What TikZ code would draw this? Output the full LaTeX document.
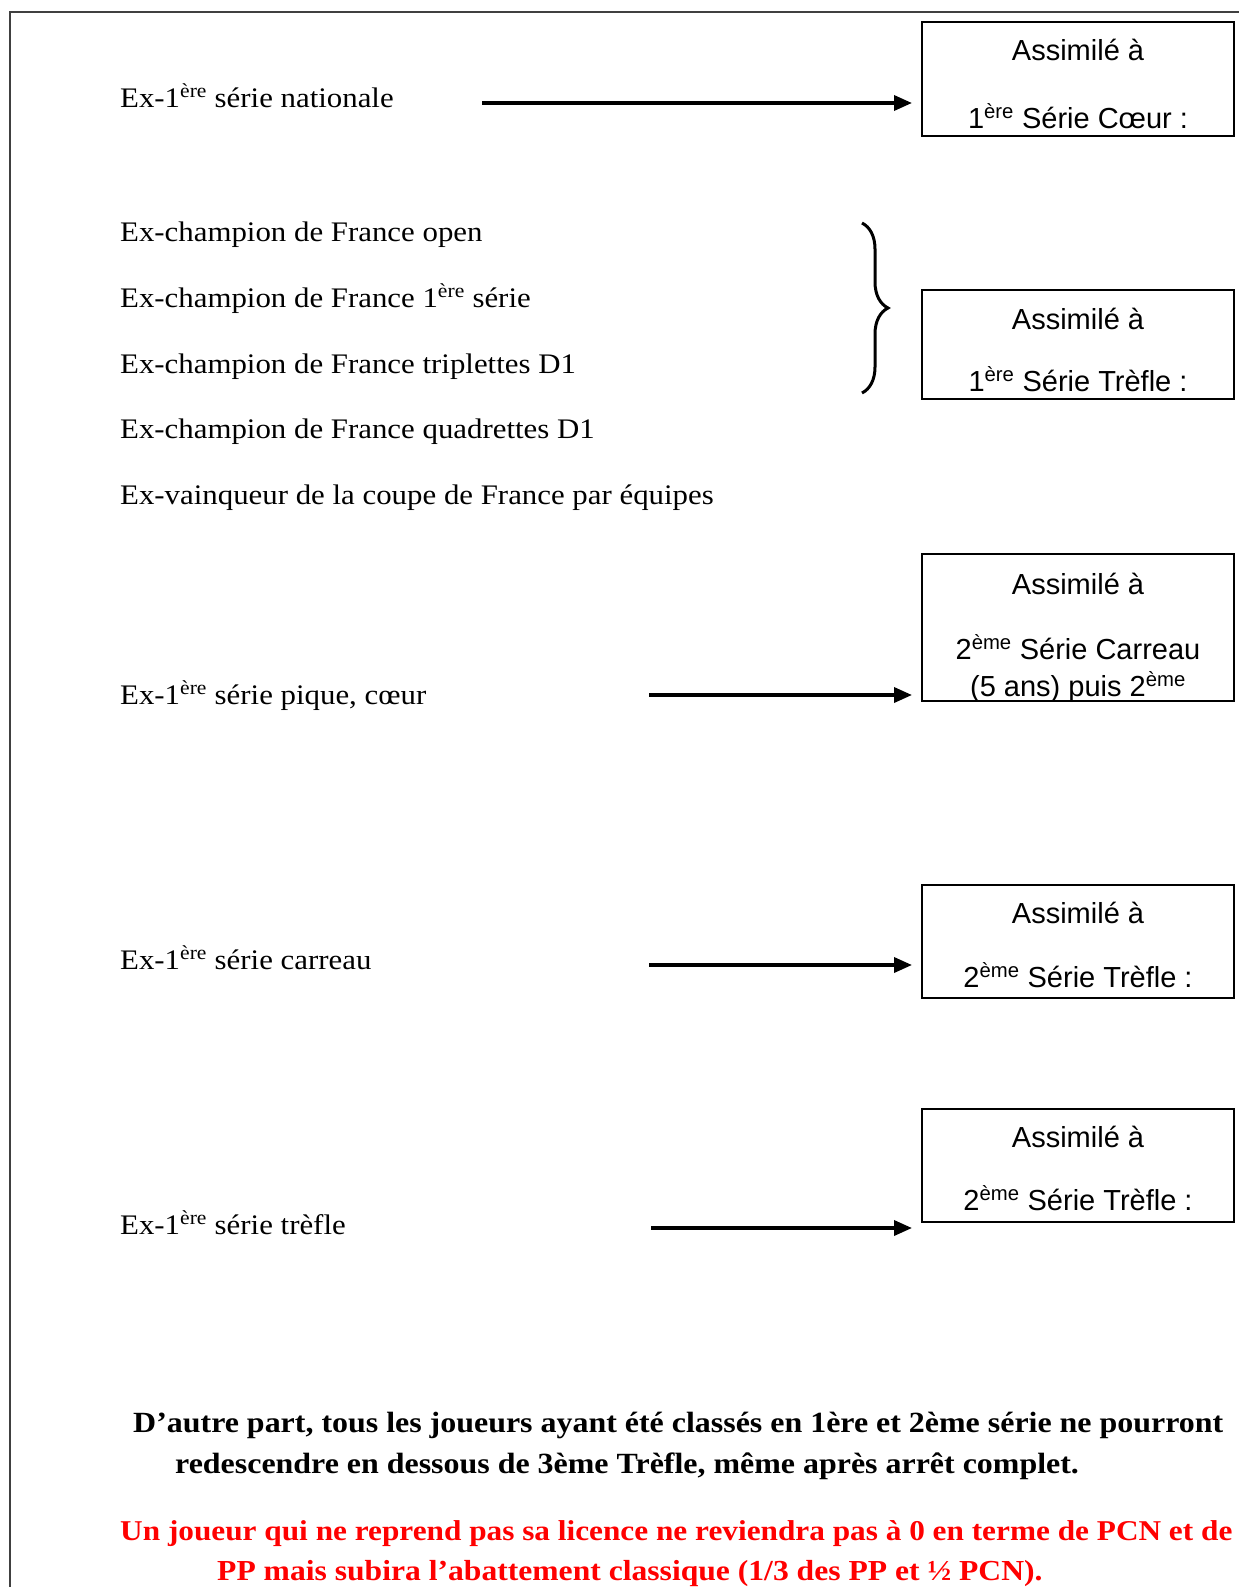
\documentclass[tikz,border=0pt]{standalone}
\usepackage{fontspec}
\setmainfont{Liberation Serif}[FakeStretch=1.09]
\newfontfamily\arial{Liberation Sans}
\usetikzlibrary{arrows.meta,decorations.pathreplacing}

\begin{document}
\begin{tikzpicture}[x=1pt,y=-1pt]
\tikzstyle{every node}=[inner sep=0pt,anchor=base west,font=\fontsize{28.3}{34}\selectfont]
\tikzstyle{boite}=[draw,line width=2pt,minimum width=312pt,anchor=center]
\tikzstyle{dans}=[anchor=base,font=\arial\fontsize{29}{35}\selectfont]
\tikzstyle{fleche}=[line width=3.5pt,-{Triangle[length=18pt,width=15pt]},shorten >=9pt]
\tikzstyle{gras}=[font=\bfseries\fontsize{29.3}{35}\selectfont]
\useasboundingbox (0,0) rectangle (1239,1587);

\draw[line width=1.3pt,black!75] (1239,12) -- (10,12) -- (10,1587); % cadre de la page

% 1ere serie coeur
\node (nat) at (120,107) {Ex-1\textsuperscript{ère} série nationale};
\node (c1) [boite,minimum height=114pt] at (1078,79) {};
\node (c1a) [dans] at (1078,61) {Assimilé à};
\node (c1b) [dans] at (1078,128) {1\textsuperscript{ère} Série Cœur :};
\coordinate (d1) at (482,103);
\draw[fleche] (d1) -- (d1 -| c1.west);

% champions de France
\node (ch1) at (120,241) {Ex-champion de France open};
\node (ch2) at (120,307) {Ex-champion de France 1\textsuperscript{ère} série};
\node (ch3) at (120,373) {Ex-champion de France triplettes D1};
\node (ch4) at (120,438) {Ex-champion de France quadrettes D1};
\node (ch5) at (120,504) {Ex-vainqueur de la coupe de France par équipes};
\draw[line width=3pt,decorate,decoration={brace,amplitude=26pt}] (862,223) -- (862,393); % accolade
\node (c2) [boite,minimum height=109pt] at (1078,344.5) {};
\node (c2a) [dans] at (1078,329) {Assimilé à};
\node (c2b) [dans] at (1078,391) {1\textsuperscript{ère} Série Trèfle :};

% pique, coeur
\node (pc) at (120,704) {Ex-1\textsuperscript{ère} série pique, cœur};
\node (c3) [boite,minimum height=147pt] at (1078,627.5) {};
\node (c3a) [dans] at (1078,594) {Assimilé à};
\node (c3b) [dans] at (1078,659) {2\textsuperscript{ème} Série Carreau};
\node (c3c) [dans] at (1078,696) {(5 ans) puis 2\textsuperscript{ème}};
\coordinate (d3) at (649,695);
\draw[fleche] (d3) -- (d3 -| c3.west);

% carreau
\node (ca) at (120,969) {Ex-1\textsuperscript{ère} série carreau};
\node (c4) [boite,minimum height=113pt] at (1078,941.5) {};
\node (c4a) [dans] at (1078,923) {Assimilé à};
\node (c4b) [dans] at (1078,987) {2\textsuperscript{ème} Série Trèfle :};
\coordinate (d4) at (649,965);
\draw[fleche] (d4) -- (d4 -| c4.west);

% trefle
\node (tr) at (120,1234) {Ex-1\textsuperscript{ère} série trèfle};
\node (c5) [boite,minimum height=113pt] at (1078,1165.5) {};
\node (c5a) [dans] at (1078,1147) {Assimilé à};
\node (c5b) [dans] at (1078,1210) {2\textsuperscript{ème} Série Trèfle :};
\coordinate (d5) at (651,1228);
\draw[fleche] (d5) -- (d5 -| c5.west);

% remarques
\node (np1) [gras] at (133,1432) {D’autre part, tous les joueurs ayant été classés en 1ère et 2ème série ne pourront};
\node (np2) [gras] at (175,1473) {redescendre en dessous de 3ème Trèfle, même après arrêt complet.};
\node (nr1) [gras,text=red,font=\bfseries\fontsize{28.7}{34}\selectfont] at (120,1540) {Un joueur qui ne reprend pas sa licence ne reviendra pas à 0 en terme de PCN et de};
\node (nr2) [gras,text=red,font=\bfseries\fontsize{29}{35}\selectfont] at (217,1580) {PP mais subira l’abattement classique (1/3 des PP et ½ PCN).};

\end{tikzpicture}
\end{document}
